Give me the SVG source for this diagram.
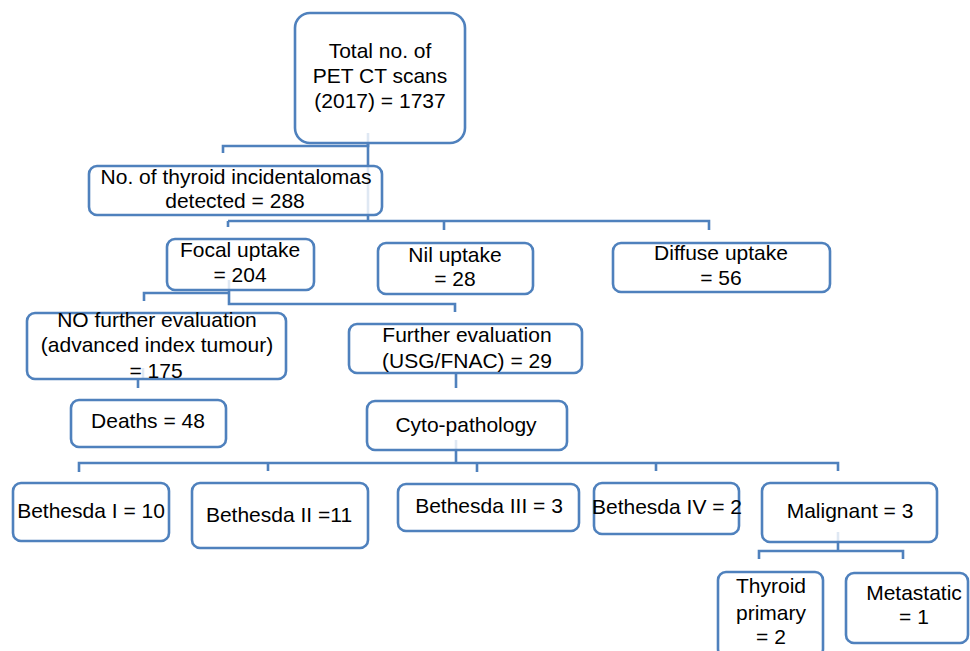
<svg xmlns="http://www.w3.org/2000/svg" width="970" height="651" viewBox="0 0 970 651">
<style>
.box{fill:#fff;fill-opacity:0.82;stroke:#4f81bd;stroke-width:2.6}
.c{fill:none;stroke:#4f81bd;stroke-width:2.6}
text{font-family:"Liberation Sans",Arial,sans-serif;font-size:21px;fill:#000;text-anchor:middle}
</style>
<rect width="970" height="651" fill="#fff"/>
<g id="connectors">
<path class="c" d="M368,133 V146 H223 V153"/>
<path class="c" d="M368,143 V221 H709 V230 M444,221 V230 M228,221 V227 M228,221 H368"/>
<path class="c" d="M229,280 V293 H144 V301 M229,293 V304 H455 V312"/>
<path class="c" d="M143,368 V379 M138,379 V388"/>
<path class="c" d="M456,373 V388"/>
<path class="c" d="M456,440 V463 M79,472 V463 H838 V471 M268,463 V471 M477,463 V472 M656,463 V471"/>
<path class="c" d="M838,532 V551 M759,559 V551 H903 V559"/>
</g>
<g id="n_total"><rect class="box" x="295" y="13" width="170" height="130" rx="15"/>
<text x="380" y="58">Total no. of</text><text x="380" y="83">PET CT scans</text><text x="380" y="108">(2017) = 1737</text></g>
<g id="n_thyroid"><rect class="box" x="89" y="166" width="293" height="49" rx="8"/>
<text x="236" y="184">No. of thyroid incidentalomas</text><text x="235" y="208">detected = 288</text></g>
<g id="n_focal"><rect class="box" x="167" y="239" width="147" height="51" rx="8"/>
<text x="240" y="257">Focal uptake</text><text x="240" y="282">= 204</text></g>
<g id="n_nil"><rect class="box" x="378" y="243" width="155" height="51" rx="8"/>
<text x="455" y="262">Nil uptake</text><text x="455" y="286">= 28</text></g>
<g id="n_diffuse"><rect class="box" x="613" y="243" width="217" height="49" rx="8"/>
<text x="721" y="260">Diffuse uptake</text><text x="721" y="285">= 56</text></g>
<g id="n_nofurther"><rect class="box" x="27" y="313" width="259" height="66" rx="8"/>
<text x="157" y="327">NO further evaluation</text><text x="157" y="352">(advanced index tumour)</text><text x="156" y="378">= 175</text></g>
<g id="n_further"><rect class="box" x="349" y="324" width="233" height="49" rx="8"/>
<text x="467" y="342">Further evaluation</text><text x="467" y="368">(USG/FNAC) = 29</text></g>
<g id="n_deaths"><rect class="box" x="71" y="400" width="155" height="47" rx="8"/>
<text x="148" y="428">Deaths = 48</text></g>
<g id="n_cyto"><rect class="box" x="367" y="401" width="200" height="49" rx="8"/>
<text x="466" y="432">Cyto-pathology</text></g>
<g id="n_b1"><rect class="box" x="13" y="483" width="156" height="58" rx="8"/>
<text x="91" y="518">Bethesda I = 10</text></g>
<g id="n_b2"><rect class="box" x="192" y="483" width="176" height="65" rx="8"/>
<text x="279" y="522">Bethesda II =11</text></g>
<g id="n_b3"><rect class="box" x="398" y="484" width="181" height="47" rx="8"/>
<text x="489" y="513">Bethesda III = 3</text></g>
<g id="n_b4"><rect class="box" x="594" y="483" width="145" height="51" rx="8"/>
<text x="667" y="514">Bethesda IV = 2</text></g>
<g id="n_malignant"><rect class="box" x="762" y="483" width="175" height="59" rx="8"/>
<text x="850" y="518">Malignant = 3</text></g>
<g id="n_primary"><rect class="box" x="718" y="572" width="105" height="85" rx="8"/>
<text x="771" y="593">Thyroid</text><text x="771" y="620">primary</text><text x="771" y="644">= 2</text></g>
<g id="n_metastatic"><rect class="box" x="846" y="573" width="122" height="70" rx="8"/>
<text x="914" y="600">Metastatic</text><text x="914" y="624">= 1</text></g>
</svg>
